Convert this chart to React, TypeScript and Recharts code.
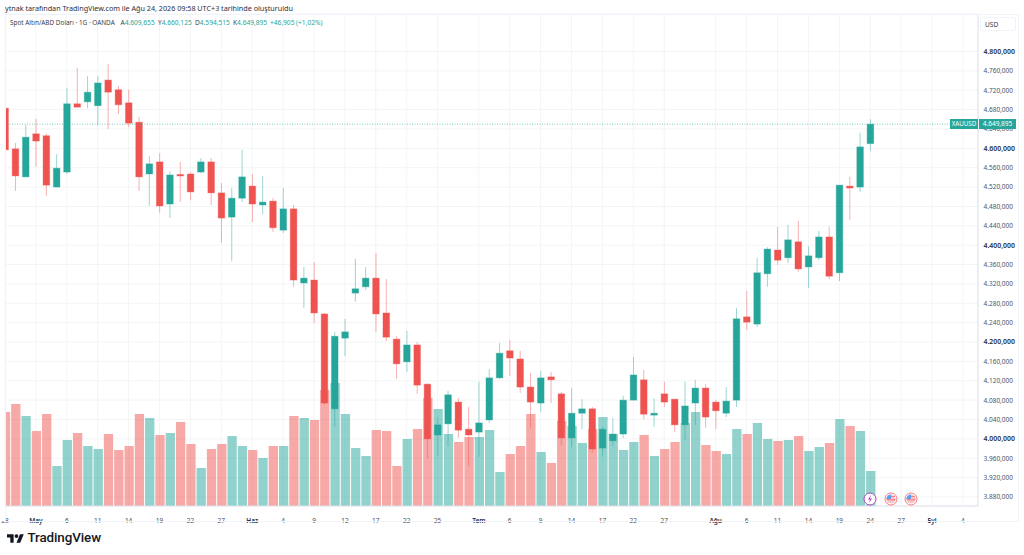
import React from 'react';
import { ComposedChart, Bar, Cell, XAxis, YAxis, CartesianGrid, ReferenceLine } from 'recharts';

// daily candles, Apr 28 -> Aug 24 (weekdays only)
const opens = [4683, 4599, 4541, 4630, 4626, 4520, 4551, 4692, 4696, 4688, 4741, 4721, 4694, 4654, 4547, 4572, 4485, 4546, 4547, 4551, 4572, 4508, 4458, 4497, 4522, 4483, 4491, 4431, 4475, 4322, 4328, 4258, 4062, 4208, 4301, 4314, 4332, 4260, 4206, 4159, 4194, 4113, 4008, 4031, 4076, 4020, 4014, 4039, 4126, 4182, 4165, 4107, 4074, 4128, 4093, 4002, 4053, 4062, 3981, 3996, 4010, 4080, 4122, 4049, 4093, 4082, 4029, 4074, 4105, 4076, 4053, 4080, 4252, 4237, 4341, 4390, 4374, 4407, 4355, 4374, 4417, 4343, 4522, 4520, 4609.655];
const highs = [4683, 4611, 4648, 4661, 4630, 4588, 4725, 4766, 4749, 4749, 4774, 4729, 4721, 4665, 4584, 4590, 4553, 4572, 4551, 4580, 4580, 4528, 4518, 4597, 4547, 4543, 4497, 4518, 4483, 4355, 4365, 4260, 4221, 4248, 4372, 4355, 4384, 4330, 4212, 4223, 4200, 4115, 4045, 4099, 4084, 4066, 4118, 4144, 4198, 4204, 4182, 4136, 4140, 4138, 4097, 4105, 4082, 4066, 4025, 4043, 4089, 4169, 4142, 4084, 4118, 4082, 4118, 4122, 4113, 4080, 4107, 4270, 4305, 4374, 4396, 4438, 4442, 4450, 4398, 4429, 4438, 4524, 4541, 4632, 4660.125];
const lows = [4597, 4512, 4541, 4562, 4502, 4520, 4547, 4685, 4683, 4648, 4640, 4671, 4644, 4512, 4481, 4467, 4456, 4489, 4493, 4549, 4483, 4405, 4367, 4489, 4448, 4464, 4427, 4425, 4314, 4270, 4239, 4070, 4025, 4171, 4283, 4307, 4221, 4202, 4124, 4138, 4093, 3960, 3965, 3985, 4002, 3944, 3963, 4033, 4124, 4130, 4095, 4023, 4056, 4074, 3987, 3983, 4020, 3971, 3963, 3985, 4002, 4080, 4041, 4025, 4066, 4014, 3998, 4029, 4023, 4020, 4045, 4066, 4225, 4231, 4314, 4359, 4363, 4345, 4312, 4369, 4330, 4326, 4452, 4510, 4594.515];
const closes = [4597, 4543, 4623, 4615, 4524, 4559, 4692, 4685, 4716, 4735, 4716, 4690, 4652, 4541, 4568, 4481, 4545, 4543, 4510, 4572, 4508, 4456, 4497, 4541, 4485, 4489, 4436, 4475, 4328, 4332, 4260, 4074, 4212, 4221, 4310, 4332, 4258, 4210, 4155, 4194, 4111, 4000, 4029, 4091, 4018, 4008, 4033, 4126, 4177, 4167, 4107, 4076, 4126, 4122, 4002, 4053, 4062, 3979, 4020, 4010, 4080, 4132, 4051, 4053, 4076, 4029, 4068, 4105, 4045, 4058, 4078, 4248, 4241, 4343, 4392, 4369, 4411, 4351, 4378, 4417, 4336, 4524, 4518, 4603, 4649.895];
const volumes = [94, 102, 90, 75, 92, 40, 66, 73, 60, 57, 72, 56, 60, 92, 88, 71, 73, 84, 62, 38, 57, 62, 70, 60, 56, 48, 60, 60, 90, 88, 86, 116, 123, 92, 58, 50, 76, 75, 40, 67, 77, 108, 97, 72, 64, 69, 69, 76, 34, 52, 60, 92, 54, 43, 85, 80, 63, 77, 89, 72, 56, 64, 71, 50, 57, 64, 83, 94, 61, 55, 52, 77, 72, 83, 67, 65, 66, 70, 55, 59, 63, 87, 80, 75, 35];

const dayTicks = [0, 3, 6, 9, 12, 15, 18, 21, 24, 27, 30, 33, 36, 39, 42, 46, 49, 52, 55, 58, 61, 64, 69, 72, 75, 78, 81, 84, 87, 90, 93];
const dayLabels = ['28', 'May', '6', '11', '14', '19', '22', '27', 'Haz', '4', '9', '12', '17', '22', '25', 'Tem', '6', '9', '14', '17', '22', '27', 'Ağu', '6', '11', '14', '19', '24', '27', 'Eyl', '4'];
const monthLabels = ['May', 'Haz', 'Tem', 'Ağu', 'Eyl'];
const priceTicks = [3880, 3920, 3960, 4000, 4040, 4080, 4120, 4160, 4200, 4240, 4280, 4320, 4360, 4400, 4440, 4480, 4520, 4560, 4600, 4640, 4680, 4720, 4760, 4800];
const boldPrices = [4000, 4200, 4400, 4600, 4800];
const lastPrice = 4649.895;

const UP = '#26a69a';
const DOWN = '#ef5350';
const FONT = '"Noto Sans", sans-serif';

const rows = opens.map((open, i) => ({
  day: i,
  open,
  close: closes[i],
  high: highs[i],
  low: lows[i],
  range: [lows[i], highs[i]],
  volume: volumes[i],
  up: closes[i] >= open,
}));

const fmtPrice = (v: number) => {
  const s = v.toFixed(3).replace('.', ',');
  return s.charAt(0) + '.' + s.slice(1);
};

// wick + body, the bar rect covers low..high
const Candle = (props: any) => {
  const { x, y, width, height, payload } = props;
  const color = payload.up ? UP : DOWN;
  const perUnit = Math.abs(height) / (payload.high - payload.low);
  const top = y + (payload.high - Math.max(payload.open, payload.close)) * perUnit;
  const bodyH = Math.max(Math.abs(payload.open - payload.close) * perUnit, 1.5);
  const cx = x + width / 2;
  return (
    <g>
      <line x1={cx} x2={cx} y1={y} y2={y + Math.abs(height)} stroke={color} strokeOpacity={0.45} strokeWidth={1} />
      <rect x={x} y={top} width={width} height={bodyH} fill={color} stroke={color} strokeOpacity={0.35} strokeWidth={1} />
    </g>
  );
};

const DayTick = (props: any) => {
  const { x, y, payload } = props;
  const label = dayLabels[dayTicks.indexOf(payload.value)];
  const isMonth = monthLabels.includes(label);
  return (
    <text x={x} y={y + 9} textAnchor="middle" fontSize={6.5} fontFamily={FONT} fontWeight={isMonth ? 600 : 400} fill={isMonth ? '#2a2e39' : '#4a4e59'}>
      {label}
    </text>
  );
};

const PriceTick = (props: any) => {
  const { y, payload } = props;
  const bold = boldPrices.includes(payload.value);
  return (
    <text x={983.5} y={y + 2.4} fontSize={bold ? 6.9 : 6.5} fontFamily={FONT} fontWeight={bold ? 600 : 400} fill={bold ? '#2a2e39' : '#50535e'}>
      {fmtPrice(payload.value)}
    </text>
  );
};

const Caption = ({ x, y, size = 6.7, color = '#3a3e49', children }: any) => (
  <div style={{ position: 'absolute', left: x, top: y, fontSize: size, lineHeight: '10px', color, whiteSpace: 'nowrap', fontFamily: FONT }}>
    {children}
  </div>
);

const FlagIcon = ({ x }: { x: number }) => (
  <svg style={{ position: 'absolute', left: x - 7, top: 492 }} width={14} height={14} viewBox="0 0 14 14">
    <circle cx={7} cy={7} r={6} fill="#fff" stroke="#f77c80" strokeWidth={1} />
    <circle cx={7} cy={7} r={4.6} fill="#fbc5c7" />
    <path d="M2.4 7 A4.6 4.6 0 0 1 7 2.4 V7 Z" fill="#5b9cf6" />
    <rect x={7} y={4} width={4} height={1} fill="#f77c80" />
    <rect x={2.6} y={7.2} width={8.8} height={1.1} fill="#f77c80" />
  </svg>
);

export default function App() {
  return (
    <div style={{ position: 'absolute', left: 0, top: 0, width: 1024, height: 555, background: '#fff', overflow: 'hidden' }}>
      <ComposedChart
        width={1024}
        height={555}
        data={rows}
        margin={{ top: 14, right: 6, bottom: 34, left: 5 }}
        style={{ position: 'absolute', left: 0, top: 0 }}
      >
        <CartesianGrid xAxisId="days" yAxisId="price" stroke="#f3f4f6" strokeWidth={1} />
        <XAxis
          xAxisId="days"
          dataKey="day"
          type="number"
          domain={[0, 94.46]}
          allowDataOverflow
          ticks={dayTicks}
          interval={0}
          height={15}
          tick={<DayTick />}
          tickLine={false}
          stroke="#e0e3eb"
        />
        <XAxis xAxisId="vol" dataKey="day" type="number" domain={[0, 94.46]} allowDataOverflow hide />
        <YAxis
          yAxisId="price"
          orientation="right"
          type="number"
          domain={[3861.4, 4877.4]}
          ticks={priceTicks}
          interval={0}
          width={40}
          tick={<PriceTick />}
          tickLine={false}
          stroke="#e0e3eb"
        />
        <YAxis yAxisId="volume" type="number" domain={[0, 492]} hide />
        <Bar xAxisId="vol" yAxisId="volume" dataKey="volume" barSize={9.3} isAnimationActive={false}>
          {rows.map((r) => (
            <Cell key={r.day} fill={r.up ? UP : DOWN} fillOpacity={0.5} />
          ))}
        </Bar>
        <Bar xAxisId="days" yAxisId="price" dataKey="range" barSize={6.6} shape={<Candle />} isAnimationActive={false} />
        <ReferenceLine xAxisId="days" yAxisId="price" y={lastPrice} stroke={UP} strokeOpacity={0.6} strokeDasharray="1 1.5" />
      </ComposedChart>

      {/* first date label is cut by the pane edge */}
      <div style={{ position: 'absolute', left: 0, top: 507, width: 5, height: 14, background: '#fff' }} />

      {/* outer frame */}
      <div style={{ position: 'absolute', left: 5, top: 14, width: 1012, height: 506, border: '1px solid #f0f3fa', pointerEvents: 'none' }} />

      <Caption x={5} y={3} size={7.2} color="#2a2e39">ytnak tarafından TradingView.com ile Ağu 24, 2026 09:58 UTC+3 tarihinde oluşturuldu</Caption>
      <Caption x={10} y={18} size={6.4}>Spot Altın/ABD Doları · 1G · OANDA</Caption>
      <Caption x={120.5} y={18} size={6.6}>A<span style={{ color: UP }}>4.609,655</span></Caption>
      <Caption x={158} y={18} size={6.6}>Y<span style={{ color: UP }}>4.660,125</span></Caption>
      <Caption x={195} y={18} size={6.6}>D<span style={{ color: UP }}>4.594,515</span></Caption>
      <Caption x={233} y={18} size={6.6}>K<span style={{ color: UP }}>4.649,895</span></Caption>
      <Caption x={270} y={18} size={6.6} color={UP}>+46,905 (+1,02%)</Caption>

      {/* currency button */}
      <div style={{ position: 'absolute', left: 980, top: 17, width: 36, height: 14, border: '1px solid #f0f3fa', borderRadius: 2, boxSizing: 'border-box' }} />
      <Caption x={985} y={20} size={6.6}>USD</Caption>

      {/* last price tags */}
      <div style={{ position: 'absolute', left: 950, top: 119, width: 28, height: 10, background: UP, color: '#fff', fontSize: 6.2, lineHeight: '10px', textAlign: 'center', fontFamily: FONT }}>XAUUSD</div>
      <div style={{ position: 'absolute', left: 979, top: 119, width: 37, height: 10, background: UP, color: '#fff', fontSize: 6.5, lineHeight: '10px', textAlign: 'center', fontFamily: FONT }}>4.649,895</div>

      {/* events */}
      <svg style={{ position: 'absolute', left: 863, top: 492 }} width={14} height={14} viewBox="0 0 14 14">
        <circle cx={7} cy={7} r={6} fill="#fff" stroke="#ab47bc" strokeWidth={1} />
        <path d="M8 3 L5 7.5 H7 L6 11 L9 6.5 H7 Z" fill="#ab47bc" />
      </svg>
      <FlagIcon x={890.7} />
      <FlagIcon x={911.3} />

      {/* logo */}
      <svg style={{ position: 'absolute', left: 7, top: 532 }} width={17} height={12} viewBox="0 0 36 24">
        <path d="M14 22H7V11H0V4h14v18zM28 22h-8l7.5-18h8L28 22z" fill="#131722" />
        <circle cx={20} cy={8} r={4} fill="#131722" />
      </svg>
      <div style={{ position: 'absolute', left: 27.5, top: 530, fontSize: 13.4, lineHeight: '16px', fontWeight: 500, color: '#131722', fontFamily: 'Roboto, sans-serif', letterSpacing: -0.1 }}>TradingView</div>
    </div>
  );
}
